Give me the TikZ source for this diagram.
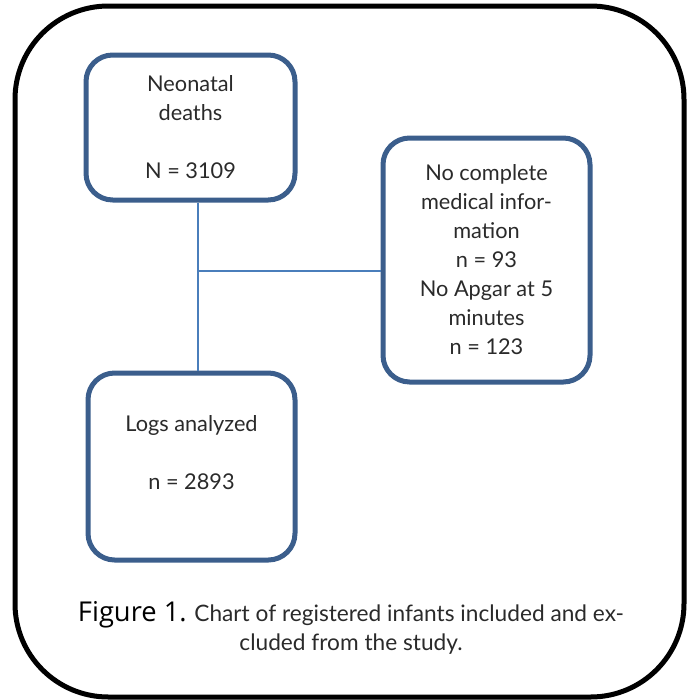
\documentclass[tikz,border=0pt]{standalone}
\usepackage{fontspec}
\usepackage{xcolor}
\usepackage{tikz}
\usetikzlibrary{positioning,calc}

\setmainfont{Lato}
\newfontfamily\figfont{Open Sans}
\newcommand{\boxtext}{\fontsize{16.3}{21.75}\selectfont}
\newcommand{\captext}{\fontsize{17}{21.75}\selectfont}

\definecolor{boxblue}{HTML}{3B5E8C}
\definecolor{linkblue}{HTML}{4A7EBB}
\definecolor{textgray}{HTML}{2A2A2A}

\begin{document}
\begin{tikzpicture}[
		x=0.75pt, y=-0.75pt,
		stagebox/.style={rectangle, draw=boxblue, line width=3.75pt, rounded corners=20pt, align=center, text=textgray, font=\boxtext, inner sep=0pt},
		link/.style={draw=linkblue, line width=1.5pt},
		]
	\useasboundingbox (0,0) rectangle (691,700);

	% outer frame
	\draw[line width=3.75pt, rounded corners=70pt] (15,6) rectangle (684,697);

	\node[stagebox, minimum width=156.75pt, minimum height=108.75pt] (deaths) at (190.5, 127.5) {Neonatal\\deaths\\~\\N = 3109};
	\node[stagebox, minimum width=155.25pt, minimum height=183pt] (excluded) at (486.5, 260) {No complete\\medical infor-\\mation\\n = 93\\No Apgar at 5\\minutes\\n = 123};
	\node[stagebox, minimum width=155.25pt, minimum height=140.25pt] (analyzed) at (191.5, 466.5) {Logs analyzed\\~\\n = 2893\\~};

	\coordinate (split) at (198, 271);
	\draw[link] (split |- deaths.south) -- (split |- analyzed.north);
	\draw[link] (split) -- (split -| excluded.west);

	\node[align=center, text=textgray, font=\captext] (caption) at (351, 627.5) {{\figfont\fontsize{20.5}{21.75}\selectfont\color{black}Figure 1.} Chart of registered infants included and ex-\\cluded from the study.};

\end{tikzpicture}
\end{document}
